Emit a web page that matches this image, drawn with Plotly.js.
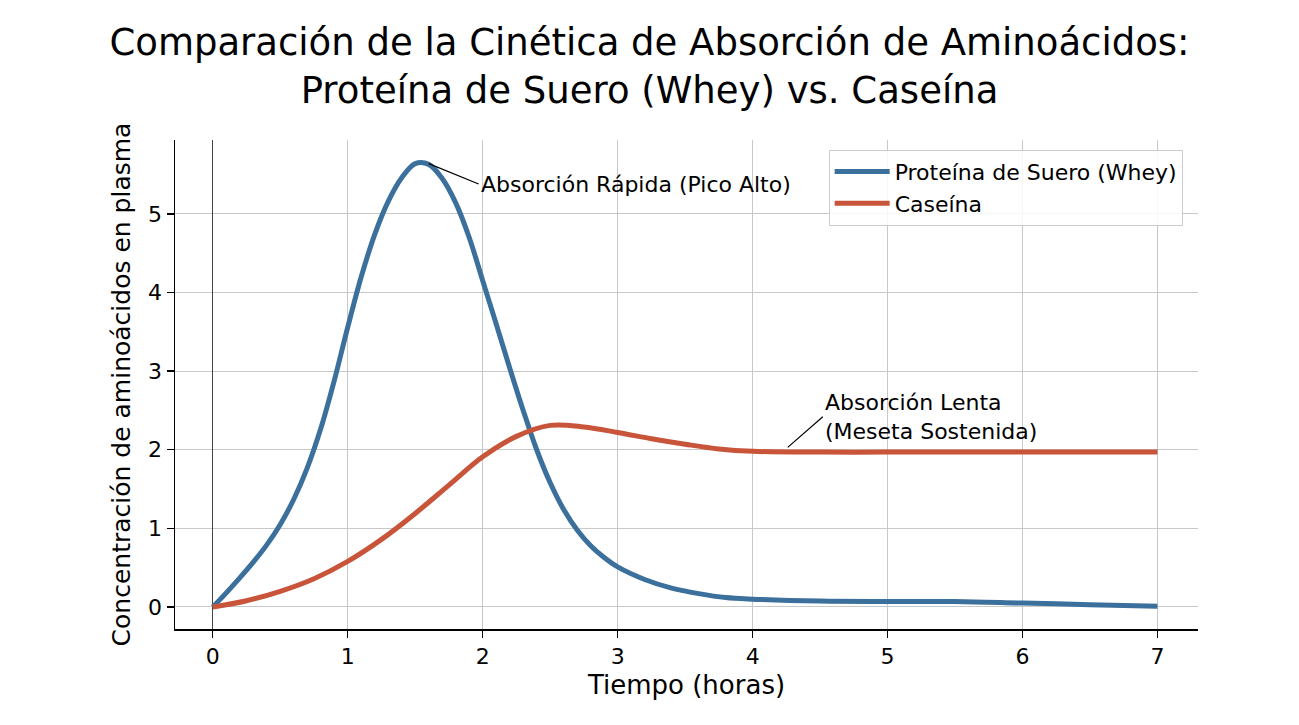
<!DOCTYPE html>
<html>
<head>
<meta charset="utf-8">
<script src="https://cdn.plot.ly/plotly-3.0.1.min.js"></script>
<style>
  html, body { margin:0; padding:0; background:#fff; }
  #chart { width:1299px; height:725px; }
</style>
</head>
<body>
<div id="chart"></div>
<script>
///////////////////////////////////////////////////////////////////////////////
// values
const tiempo_whey = [0, 0.1, 0.2, 0.3, 0.4, 0.5, 0.6, 0.7, 0.8, 0.9, 1.0, 1.1, 1.2, 1.3, 1.4, 1.5, 1.6, 1.7, 1.8, 1.9, 2.0,
                     2.1, 2.2, 2.3, 2.4, 2.5, 2.6, 2.7, 2.8, 2.9, 3.0, 3.2, 3.4, 3.6, 3.8, 4.0, 4.5, 5.0, 5.5, 6.0, 6.5, 7.0];
const conc_whey   = [0, 0.18, 0.37, 0.57, 0.79, 1.05, 1.37, 1.77, 2.27, 2.88, 3.56, 4.2, 4.74, 5.16, 5.46, 5.64, 5.63, 5.45, 5.14, 4.7, 4.15,
                     3.6, 3.04, 2.5, 2.0, 1.58, 1.24, 0.98, 0.78, 0.63, 0.51, 0.35, 0.24, 0.17, 0.12, 0.10, 0.075, 0.07, 0.07, 0.05, 0.03, 0.01];

const tiempo_caseina = [0, 0.25, 0.5, 0.75, 1.0, 1.25, 1.5, 1.75, 2.0, 2.25, 2.5, 2.75, 3.0, 3.25, 3.5, 3.75, 4.0, 4.5, 5.0, 5.5, 6.0, 6.5, 7.0];
const conc_caseina   = [0, 0.08, 0.2, 0.36, 0.58, 0.86, 1.19, 1.55, 1.91, 2.17, 2.31, 2.29, 2.22, 2.14, 2.07, 2.01, 1.98, 1.97, 1.97, 1.97, 1.97, 1.97, 1.97];

const nombres = ['Proteína de Suero (Whey)', 'Caseína'];
const x_ticks = [0, 1, 2, 3, 4, 5, 6, 7];
const y_ticks = [0, 1, 2, 3, 4, 5];

const FONT = 'DejaVu Sans, Liberation Sans, sans-serif';

///////////////////////////////////////////////////////////////////////////////
let traces = [];

traces.push({
    x: tiempo_whey, y: conc_whey, name: nombres[0],
    mode: 'lines', type: 'scatter',
    line: {color: '#3b6f9c', width: 5, shape: 'spline', smoothing: 1},
});
traces.push({
    x: tiempo_caseina, y: conc_caseina, name: nombres[1],
    mode: 'lines', type: 'scatter',
    line: {color: '#c8553a', width: 5, shape: 'spline', smoothing: 1},
});

let layout = {
    width: 1299, height: 725,
    font: {family: FONT, color: '#000', size: 22},
    paper_bgcolor: '#fff',
    plot_bgcolor: '#fff',
    margin: {l: 175, r: 101, t: 140, b: 96},
    title: {
        text: 'Comparación de la Cinética de Absorción de Aminoácidos:<br>Proteína de Suero (Whey) vs. Caseína',
        font: {family: FONT, size: 37, color: '#000'},
        x: 0.5, xanchor: 'center', y: 0.924, yanchor: 'middle',
    },
    showlegend: true,
    legend: {
        x: 0.985, xanchor: 'right', y: 0.98, yanchor: 'top',
        bgcolor: 'rgba(255,255,255,0.85)',
        bordercolor: '#cccccc', borderwidth: 1,
        font: {family: FONT, size: 22},
        itemwidth: 55,
        tracegroupgap: 0,
    },
    xaxis: {
        range: [-0.28, 7.3],
        tickvals: x_ticks,
        ticks: 'outside', ticklen: 7, tickwidth: 1.3, tickcolor: '#000',
        tickfont: {size: 22},
        showgrid: true, gridcolor: '#c8c8c8', gridwidth: 1,
        zeroline: true, zerolinecolor: '#444', zerolinewidth: 1,
        showline: true, linecolor: '#000', linewidth: 1.5,
        title: {text: 'Tiempo (horas)', font: {size: 26}, standoff: 8},
    },
    yaxis: {
        range: [-0.28, 5.94],
        tickvals: y_ticks,
        ticks: 'outside', ticklen: 7, tickwidth: 1.3, tickcolor: '#000',
        tickfont: {size: 22},
        showgrid: true, gridcolor: '#c8c8c8', gridwidth: 1,
        zeroline: false,
        showline: true, linecolor: '#000', linewidth: 1.5,
        title: {text: 'Concentración de aminoácidos en plasma', font: {size: 25}, standoff: 10},
    },
    annotations: [
        {
            x: 1.6, y: 5.64, xref: 'x', yref: 'y',
            ax: 1.97, ay: 5.38, axref: 'x', ayref: 'y',
            text: 'Absorción Rápida (Pico Alto)', xanchor: 'left',
            showarrow: true, arrowhead: 0, arrowwidth: 1.2, arrowcolor: '#000',
            font: {size: 22},
        },
        {
            x: 4.26, y: 2.03, xref: 'x', yref: 'y',
            ax: 4.52, ay: 2.42, axref: 'x', ayref: 'y',
            text: 'Absorción Lenta<br>(Meseta Sostenida)', xanchor: 'left', align: 'left',
            showarrow: true, arrowhead: 0, arrowwidth: 1.2, arrowcolor: '#000',
            font: {size: 22},
        },
    ],
};

Plotly.newPlot('chart', traces, layout, {displayModeBar: false, staticPlot: true});
</script>
</body>
</html>
